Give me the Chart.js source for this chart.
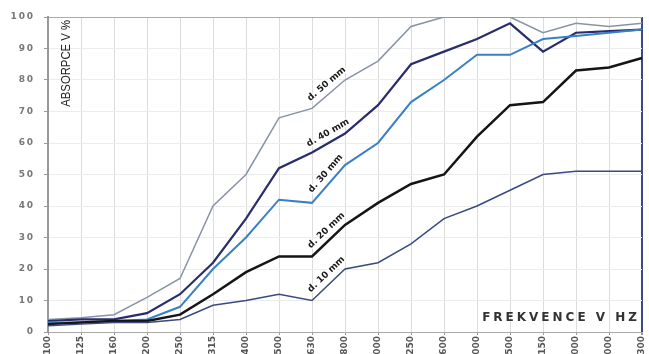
<!DOCTYPE html>
<html lang="cs">
<head>
    <meta charset="UTF-8">
    <title>Absorpce</title>
    <script src="https://cdn.jsdelivr.net/npm/chart.js"></script>
    <style>
        body {
            margin: 0;
            padding: 0;
            background: #fff;
            overflow: hidden;
        }
    </style>
</head>
<body>
    <canvas id="absorpceChart" width="649" height="354"></canvas>

    <script>
        // Třetinooktávová pásma
        const frekvence = ['100', '125', '160', '200', '250', '315', '400', '500', '630', '800',
            '1000', '1250', '1600', '2000', '2500', '3150', '4000', '5000', '6300'];

        // Činitel zvukové pohltivosti v % podle tloušťky
        const tl10 = [2, 2.5, 3, 3, 4, 8.5, 10, 12, 10, 20, 22, 28, 36, 40, 45, 50, 51, 51, 51];
        const tl20 = [2.5, 3, 3.5, 3.5, 5.5, 12, 19, 24, 24, 34, 41, 47, 50, 62, 72, 73, 83, 84, 87];
        const tl30 = [3, 3, 3.5, 4, 8, 20, 30, 42, 41, 53, 60, 73, 80, 88, 88, 93, 94, 95, 96];
        const tl40 = [3.5, 4, 4, 6, 12, 22, 36, 52, 57, 63, 72, 85, 89, 93, 98, 89, 95, 95.5, 96];
        const tl50 = [4, 4.5, 5.5, 11, 17, 40, 50, 68, 71, 80, 86, 97, 100, 100, 100, 95, 98, 97, 98];

        const popisky = ['d. 10 mm', 'd. 20 mm', 'd. 30 mm', 'd. 40 mm', 'd. 50 mm'];

        // popisky tlouštěk podél úseku 630-800 Hz + texty os
        const popiskyPlugin = {
            id: 'popisky',
            afterDatasetsDraw(chart) {
                const ctx = chart.ctx;
                const area = chart.chartArea;
                ctx.save();
                chart.data.datasets.forEach((ds, i) => {
                    const pts = chart.getDatasetMeta(i).data;
                    const a = pts[8], b = pts[9];
                    const ang = Math.atan2(b.y - a.y, b.x - a.x);
                    const t = 0.62;
                    const mx = a.x + (b.x - a.x) * t + Math.sin(ang) * 9;
                    const my = a.y + (b.y - a.y) * t - Math.cos(ang) * 9;
                    ctx.save();
                    ctx.translate(mx, my);
                    ctx.rotate(ang);
                    ctx.font = 'bold 9px "DejaVu Sans", sans-serif';
                    ctx.textAlign = 'center';
                    ctx.textBaseline = 'middle';
                    ctx.lineWidth = 3;
                    ctx.strokeStyle = '#fff';
                    ctx.strokeText(popisky[i], 0, 0);
                    ctx.fillStyle = '#1a1a1a';
                    ctx.fillText(popisky[i], 0, 0);
                    ctx.restore();
                });

                // svislý popis osy y uvnitř grafu (zúžené písmo)
                ctx.save();
                ctx.translate(area.left + 18, area.top + 3);
                ctx.rotate(-Math.PI / 2);
                ctx.scale(0.87, 1);
                ctx.font = '13px "Liberation Sans", sans-serif';
                ctx.textAlign = 'right';
                ctx.textBaseline = 'middle';
                ctx.fillStyle = '#222';
                ctx.fillText('ABSORPCE V %', 0, 0);
                ctx.restore();

                // popis osy x vpravo dole
                ctx.font = 'bold 12px "DejaVu Sans", sans-serif';
                ctx.letterSpacing = '3px';
                ctx.textAlign = 'right';
                ctx.textBaseline = 'middle';
                ctx.fillStyle = '#333';
                ctx.fillText('FREKVENCE V HZ', area.right - 2, area.bottom - 14);
                ctx.restore();
            }
        };

        const ctx = document.getElementById('absorpceChart').getContext('2d');
        new Chart(ctx, {
            type: 'line',
            data: {
                labels: frekvence,
                datasets: [
                    { data: tl10, borderColor: '#3a4a7e', borderWidth: 1.5 },
                    { data: tl20, borderColor: '#151515', borderWidth: 2.5 },
                    { data: tl30, borderColor: '#3a80c4', borderWidth: 2 },
                    { data: tl40, borderColor: '#2a2d6c', borderWidth: 2.2 },
                    { data: tl50, borderColor: '#8893a6', borderWidth: 1.5 }
                ]
            },
            options: {
                responsive: false,
                animation: false,
                elements: {
                    point: { radius: 0 },
                    line: { tension: 0, fill: false }
                },
                layout: {
                    padding: { top: 17, right: 7, left: 0, bottom: 0 }
                },
                plugins: {
                    legend: { display: false },
                    tooltip: { enabled: false }
                },
                scales: {
                    x: {
                        offset: false,
                        afterFit: (s) => {
                            s.height = 22;
                            s.paddingLeft = 0;
                            s.paddingRight = 0;
                        },
                        border: { color: '#aaa', width: 1 },
                        grid: {
                            color: (c) => c.index === frekvence.length - 1 ? '#3b4d7e' : '#dcdcdc',
                            lineWidth: (c) => c.index === frekvence.length - 1 ? 2 : 1,
                            tickColor: '#999',
                            tickLength: 3
                        },
                        ticks: {
                            autoSkip: false,
                            maxRotation: 90,
                            minRotation: 90,
                            padding: 1,
                            color: '#555',
                            font: { family: '"DejaVu Sans", sans-serif', size: 9, weight: 'bold' }
                        }
                    },
                    y: {
                        min: 0,
                        max: 100,
                        afterFit: (s) => { s.width = 48; },
                        border: { color: '#999', width: 2 },
                        grid: {
                            color: (c) => c.tick && c.tick.value === 100 ? '#aaa' : '#ececec',
                            tickColor: '#999',
                            tickLength: 4
                        },
                        ticks: {
                            stepSize: 10,
                            padding: 11,
                            color: '#777',
                            font: { family: '"DejaVu Sans", sans-serif', size: 9, weight: 'bold' },
                            callback: (v) => String(v).split('').join('\u2009')
                        }
                    }
                }
            },
            plugins: [popiskyPlugin]
        });
    </script>
</body>
</html>
